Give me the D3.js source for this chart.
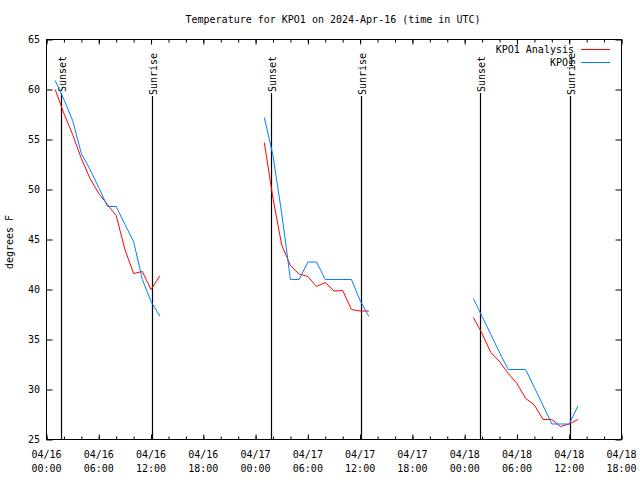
<!DOCTYPE html>
<html><head><meta charset="utf-8">
<script src="https://cdn.jsdelivr.net/npm/d3@7"></script>
<style>
html,body{margin:0;padding:0;background:#fff;}
svg{display:block;}
text{font-family:"DejaVu Sans Mono","Liberation Mono",monospace;font-size:10px;fill:#000;}
</style></head><body>
<script>
// ---- data (hours since 2024-04-16 00:00 UTC) ----
const baseTime = "2024-04-16T00:00:00Z";
const hours1 = [1,2,3,4,5,6,7,8,9,10,11,12,13];
const hours2 = [25,26,27,28,29,30,31,32,33,34,35,36,37];
const hours3 = [49,50,51,52,53,54,55,56,57,58,59,60,61];
const analysis1 = [60.0,57.6,55.5,53.1,51.1,49.6,48.5,47.4,44.0,41.6,41.8,40.0,41.35];
const analysis2 = [54.7,49.1,44.45,42.4,41.55,41.3,40.3,40.7,39.85,39.9,38.0,37.85,37.85];
const analysis3 = [37.2,35.6,33.7,32.8,31.6,30.6,29.1,28.45,27.0,27.0,26.3,26.55,27.0];
const obs1 = [60.9,59.0,56.9,53.6,52.0,50.2,48.3,48.3,46.5,44.8,41.0,38.8,37.35];
const obs2 = [57.2,53.4,47.6,41.0,41.0,42.75,42.75,41.0,41.0,41.0,41.0,38.9,37.3];
const obs3 = [39.1,37.3,35.5,33.7,32.0,32.0,32.0,30.2,28.4,26.55,26.55,26.55,28.35];
const sunsetTimes = ["2024-04-16T01:43:00Z","2024-04-17T01:49:00Z","2024-04-18T01:47:00Z"];
const sunriseTimes = ["2024-04-16T12:10:00Z","2024-04-17T12:08:00Z","2024-04-18T12:04:00Z"];
const yTicks = [25,30,35,40,45,50,55,60,65];
const seriesNames = ["KPO1 Analysis","KPO1"];
const seriesColors = ["#ff0000","#0080ff"];
const titleText = "Temperature for KPO1 on 2024-Apr-16 (time in UTC)";
const yLabel = "degrees F";

// ---- chart ----
const W = 640, H = 480;
const L = 46.5, R = 621.5, T = 39.5, B = 439.5;
const svg = d3.select("body").append("svg").attr("width", W).attr("height", H);
const base = new Date(baseTime);
const x = d3.scaleUtc().domain([base, d3.utcHour.offset(base, 66)]).range([L, R]);
const y = d3.scaleLinear().domain([25, 65]).range([B, T]);

// border
svg.append("rect").attr("x", L).attr("y", T).attr("width", R - L).attr("height", B - T)
  .attr("fill", "none").attr("stroke", "#000").attr("stroke-width", 1);

function styleAxis(g){ g.select(".domain").remove(); g.selectAll("line").attr("stroke","#000"); g.selectAll("text").remove(); }
// x ticks bottom & top
const major = d3.utcHour.every(6), minor = d3.utcHour.every(2);
svg.append("g").attr("transform", `translate(0,${B})`).call(d3.axisBottom(x).ticks(minor).tickSize(-3).tickFormat("")).call(styleAxis);
svg.append("g").attr("transform", `translate(0,${B})`).call(d3.axisBottom(x).ticks(major).tickSize(-5).tickFormat("")).call(styleAxis);
svg.append("g").attr("transform", `translate(0,${T})`).call(d3.axisTop(x).ticks(minor).tickSize(-3).tickFormat("")).call(styleAxis);
svg.append("g").attr("transform", `translate(0,${T})`).call(d3.axisTop(x).ticks(major).tickSize(-5).tickFormat("")).call(styleAxis);
// y ticks left & right
svg.append("g").attr("transform", `translate(${L},0)`).call(d3.axisLeft(y).tickValues(yTicks).tickSize(-6).tickFormat("")).call(styleAxis);
svg.append("g").attr("transform", `translate(${R},0)`).call(d3.axisRight(y).tickValues(yTicks).tickSize(-6).tickFormat("")).call(styleAxis);

// x labels
const fmtD = d3.utcFormat("%m/%d"), fmtT = d3.utcFormat("%H:%M");
x.ticks(major).forEach(t => {
  const tx = svg.append("text").attr("x", x(t)).attr("y", 458).attr("text-anchor", "middle");
  tx.append("tspan").attr("x", x(t)).text(fmtD(t));
  tx.append("tspan").attr("x", x(t)).attr("dy", 14).text(fmtT(t));
});
// y labels
yTicks.forEach(v => {
  svg.append("text").attr("x", 40).attr("y", y(v)).attr("dy", "0.35em").attr("text-anchor", "end").text(v);
});
// title, y label
svg.append("text").attr("x", 333).attr("y", 23).attr("text-anchor", "middle").text(titleText);
svg.append("text").attr("transform", `translate(13,242) rotate(-90)`).attr("text-anchor", "middle").text(yLabel);

// sunset / sunrise markers
function marker(time, label){
  const t = new Date(time), px = Math.round(x(t)) + 0.5;
  const half = label.length * 3;
  svg.append("line").attr("x1", px).attr("x2", px).attr("y1", 74 + half + 1).attr("y2", B)
    .attr("stroke", "#000").attr("stroke-width", 1.2);
  svg.append("text").attr("transform", `translate(${px + 1},74) rotate(-90)`)
    .attr("text-anchor", "middle").attr("dy", "0.35em").text(label);
}
sunsetTimes.forEach(t => marker(t, "Sunset"));
sunriseTimes.forEach(t => marker(t, "Sunrise"));

// lines
const line = d3.line().x(d => x(d3.utcHour.offset(base, d[0]))).y(d => y(d[1]));
const segs = [
  [hours1, analysis1, 0],[hours2, analysis2, 0],[hours3, analysis3, 0],
  [hours1, obs1, 1],[hours2, obs2, 1],[hours3, obs3, 1]
];
segs.forEach(([h, v, k]) => {
  svg.append("path").datum(h.map((hh, i) => [hh, v[i]])).attr("d", line)
    .attr("fill", "none").attr("stroke", seriesColors[k]).attr("stroke-width", 1);
});

// legend
seriesNames.forEach((n, i) => {
  const ly = 49.5 + i * 13;
  svg.append("text").attr("x", 574).attr("y", ly).attr("dy", "0.35em").attr("text-anchor", "end").text(n);
  svg.append("line").attr("x1", 581).attr("x2", 610).attr("y1", ly).attr("y2", ly)
    .attr("stroke", seriesColors[i]).attr("stroke-width", 1);
});
</script>
</body></html>
